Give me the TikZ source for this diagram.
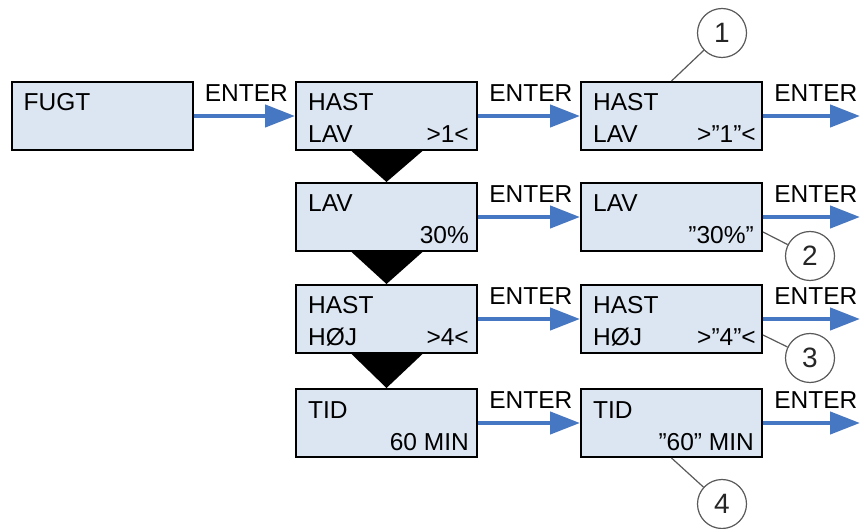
\documentclass[tikz,border=0pt]{standalone}
\usepackage{fontspec}
\setmainfont{Liberation Sans}
\usetikzlibrary{arrows.meta,positioning}

\definecolor{scrfill}{HTML}{DCE6F2}
\definecolor{arrblue}{HTML}{4677C2}
\definecolor{refgray}{HTML}{595959}

\begin{document}
\begin{tikzpicture}[x=1pt, y=-1pt, font=\fontsize{24.5}{28}\selectfont,
  screen/.style={draw, line width=2pt, fill=scrfill, minimum width=181pt, minimum height=68pt, inner sep=0pt},
  txt/.style={inner sep=0pt},
  enter/.style={-{Triangle[length=30pt,width=22pt]}, line width=4.5pt, draw=arrblue},
  lbl/.style={anchor=base west, inner sep=0pt, xshift=9pt, yshift=14pt, text=black},
  refno/.style={circle, draw=refgray, line width=1.2pt, fill=white, minimum size=49pt, inner sep=0pt, font=\fontsize{28}{30}\selectfont, text=black!85},
  lead/.style={draw=refgray, line width=1.2pt}]
\useasboundingbox (0,0) rectangle (860,529);

% screens
\node[screen] (fugt) at (102,116) {};
\node[screen] (hlav) at (386.5,116) {};
\node[screen] (lav) at (386.5,217) {};
\node[screen] (hhoj) at (386.5,319) {};
\node[screen] (tid) at (386.5,423) {};
\node[screen] (hlavset) at (671.5,116) {};
\node[screen] (lavset) at (671.5,217) {};
\node[screen] (hhojset) at (671.5,319) {};
\node[screen] (tidset) at (671.5,423) {};

% screen texts
\node[txt, anchor=base west] (fugtA) at ([xshift=13pt,yshift=-30pt]fugt.north west) {FUGT};
\node[txt, anchor=base west] (hlavA) at ([xshift=13pt,yshift=-30pt]hlav.north west) {HAST};
\node[txt, anchor=base west] (hlavB) at ([xshift=13pt,yshift=8pt]hlav.south west) {LAV};
\node[txt, anchor=base east] (hlavC) at ([xshift=-9pt,yshift=8pt]hlav.south east) {>1<};
\node[txt, anchor=base west] (lavA) at ([xshift=13pt,yshift=-30pt]lav.north west) {LAV};
\node[txt, anchor=base east] (lavC) at ([xshift=-9pt,yshift=8pt]lav.south east) {30\%};
\node[txt, anchor=base west] (hhojA) at ([xshift=13pt,yshift=-30pt]hhoj.north west) {HAST};
\node[txt, anchor=base west] (hhojB) at ([xshift=13pt,yshift=8pt]hhoj.south west) {HØJ};
\node[txt, anchor=base east] (hhojC) at ([xshift=-9pt,yshift=8pt]hhoj.south east) {>4<};
\node[txt, anchor=base west] (tidA) at ([xshift=13pt,yshift=-30pt]tid.north west) {TID};
\node[txt, anchor=base east] (tidC) at ([xshift=-9pt,yshift=8pt]tid.south east) {60 MIN};
\node[txt, anchor=base west] (hlavsetA) at ([xshift=13pt,yshift=-30pt]hlavset.north west) {HAST};
\node[txt, anchor=base west] (hlavsetB) at ([xshift=13pt,yshift=8pt]hlavset.south west) {LAV};
\node[txt, anchor=base east] (hlavsetC) at ([xshift=-7pt,yshift=8pt]hlavset.south east) {>”1”<};
\node[txt, anchor=base west] (lavsetA) at ([xshift=13pt,yshift=-30pt]lavset.north west) {LAV};
\node[txt, anchor=base east] (lavsetC) at ([xshift=-9pt,yshift=8pt]lavset.south east) {”30\%”};
\node[txt, anchor=base west] (hhojsetA) at ([xshift=13pt,yshift=-30pt]hhojset.north west) {HAST};
\node[txt, anchor=base west] (hhojsetB) at ([xshift=13pt,yshift=8pt]hhojset.south west) {HØJ};
\node[txt, anchor=base east] (hhojsetC) at ([xshift=-7pt,yshift=8pt]hhojset.south east) {>”4”<};
\node[txt, anchor=base west] (tidsetA) at ([xshift=13pt,yshift=-30pt]tidset.north west) {TID};
\node[txt, anchor=base east] (tidsetC) at ([xshift=-9pt,yshift=8pt]tidset.south east) {”60” MIN};

% scroll down
\fill ([xshift=-35pt]hlav.south) -- ([xshift=36pt]hlav.south) -- (lav.north) -- cycle;
\fill ([xshift=-35pt]lav.south) -- ([xshift=36pt]lav.south) -- (hhoj.north) -- cycle;
\fill ([xshift=-35pt]hhoj.south) -- ([xshift=36pt]hhoj.south) -- (tid.north) -- cycle;

% ENTER arrows
\coordinate (out1) at (860,116);
\coordinate (out2) at (860,217);
\coordinate (out3) at (860,319);
\coordinate (out4) at (860,423);
\draw[enter] (fugt.east) -- node[lbl, pos=0] {ENTER} (hlav.west);
\draw[enter] (hlav.east) -- node[lbl, pos=0] {ENTER} (hlavset.west);
\draw[enter] (lav.east) -- node[lbl, pos=0] {ENTER} (lavset.west);
\draw[enter] (hhoj.east) -- node[lbl, pos=0] {ENTER} (hhojset.west);
\draw[enter] (tid.east) -- node[lbl, pos=0] {ENTER} (tidset.west);
\draw[enter] (hlavset.east) -- node[lbl, pos=0] {ENTER} (out1);
\draw[enter] (lavset.east) -- node[lbl, pos=0] {ENTER} (out2);
\draw[enter] (hhojset.east) -- node[lbl, pos=0] {ENTER} (out3);
\draw[enter] (tidset.east) -- node[lbl, pos=0] {ENTER} (out4);

% reference numbers
\node[refno] (r1) at (722,33) {1};
\node[refno] (r2) at (810,256) {2};
\node[refno] (r3) at (810,358) {3};
\node[refno] (r4) at (722,504) {4};
\draw[lead] (hlavset.north) -- (r1);
\draw[lead] ([yshift=-15pt]lavset.east) -- (r2);
\draw[lead] ([yshift=-16pt]hhojset.east) -- (r3);
\draw[lead] (tidset.south) -- (r4);
\end{tikzpicture}
\end{document}
